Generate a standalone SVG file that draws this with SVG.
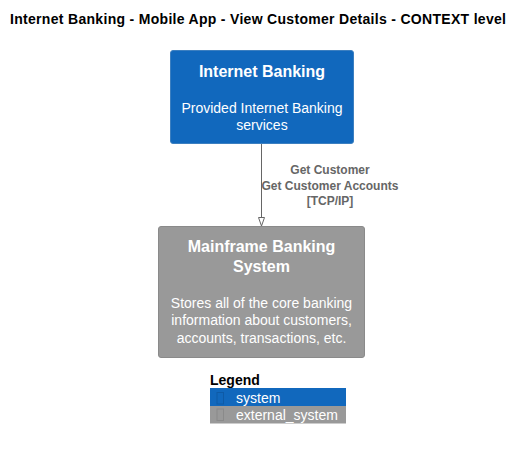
<svg xmlns="http://www.w3.org/2000/svg" width="523" height="449" viewBox="0 0 523 449">
<style>
text{font-family:"Liberation Sans",Arial,sans-serif}
.t{font-size:14px;font-weight:bold;fill:#000}
.h{font-size:16px;font-weight:bold;fill:#fff}
.d{font-size:14px;fill:#fff}
.l{font-size:12px;font-weight:bold;fill:#666}
.lg{font-size:14px;font-weight:bold;fill:#000}
.sys{fill:#1168BD;stroke:#3C7FC0;stroke-width:1}
.ext{fill:#999999;stroke:#8A8A8A;stroke-width:1}
</style>
<defs>
<marker id="arr" markerWidth="12" markerHeight="12" refX="9" refY="6" orient="auto" markerUnits="userSpaceOnUse">
<path d="M0.5,3 L9,6 L0.5,9 Z" fill="#fff" stroke="#666" stroke-width="1"/>
</marker>
</defs>
<rect width="523" height="449" fill="#fff"/>
<text class="t" x="258" y="24" text-anchor="middle" textLength="496" lengthAdjust="spacing">Internet Banking - Mobile App - View Customer Details - CONTEXT level</text>
<g id="internet_banking">
<rect class="sys" x="170.5" y="50.5" width="183" height="93" rx="2.5"/>
<text class="h" x="262" y="77" text-anchor="middle">Internet Banking</text>
<text class="d" x="262" y="113" text-anchor="middle">Provided Internet Banking</text>
<text class="d" x="262" y="130" text-anchor="middle">services</text>
</g>
<g id="mainframe">
<rect class="ext" x="158.5" y="226.5" width="206" height="131" rx="2.5"/>
<text class="h" x="261.5" y="252" text-anchor="middle">Mainframe Banking</text>
<text class="h" x="261.5" y="272" text-anchor="middle">System</text>
<text class="d" x="261.5" y="307.5" text-anchor="middle">Stores all of the core banking</text>
<text class="d" x="261.5" y="325" text-anchor="middle">information about customers,</text>
<text class="d" x="261.5" y="342.5" text-anchor="middle">accounts, transactions, etc.</text>
</g>
<g id="connectors">
<line x1="261.5" y1="144" x2="261.5" y2="226" stroke="#666" stroke-width="1" marker-end="url(#arr)"/>
<text class="l" x="330" y="174" text-anchor="middle">Get Customer</text>
<text class="l" x="330" y="189.5" text-anchor="middle">Get Customer Accounts</text>
<text class="l" x="330" y="205" text-anchor="middle">[TCP/IP]</text>
</g>
<g id="legend">
<text class="lg" x="210" y="385">Legend</text>
<rect x="210" y="388" width="136" height="18" fill="#1168BD"/>
<rect x="210" y="406" width="136" height="17.5" fill="#999999"/>
<rect x="217" y="392.5" width="6.5" height="11.5" fill="none" stroke="#0E5AA6" stroke-width="1"/>
<rect x="217" y="409" width="6.5" height="11.5" fill="none" stroke="#8A8A8A" stroke-width="1"/>
<text class="d" x="236" y="403">system</text>
<text class="d" x="236" y="420">external_system</text>
</g>
</svg>
